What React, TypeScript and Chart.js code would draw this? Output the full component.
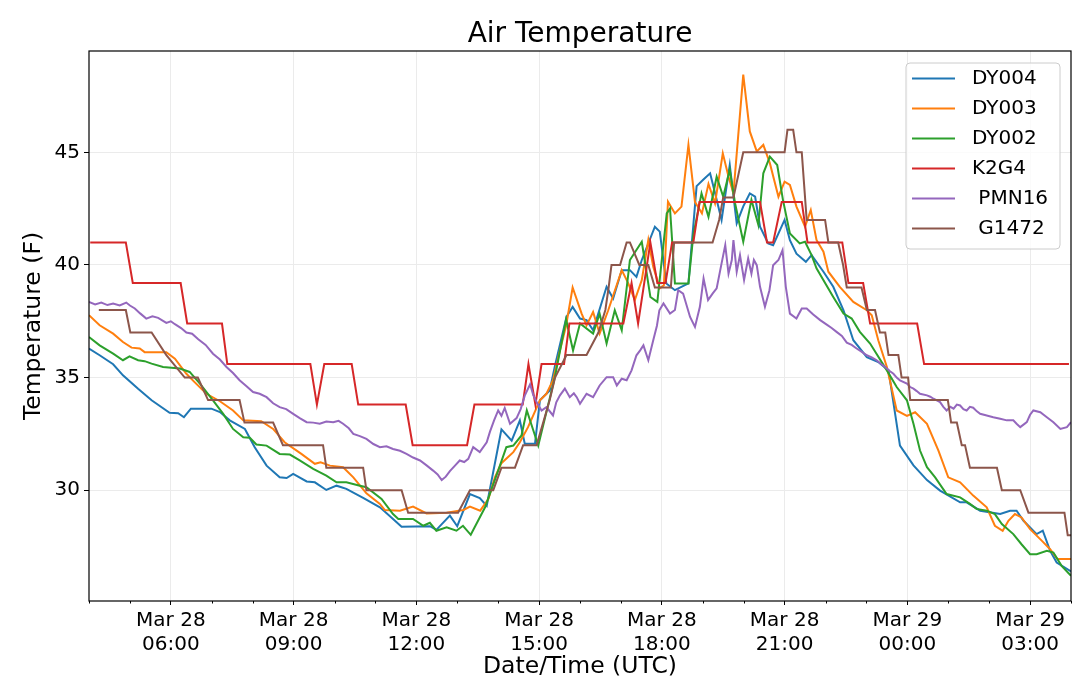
import React, { useEffect, useRef } from 'react';
import { Chart, registerables } from 'chart.js';
Chart.register(...registerables);

// [hours since Mar 28 00:00 UTC, temperature F]
const dy004: [number, number][] = [
  [4.0, 36.29], [4.26, 35.99], [4.59, 35.59], [4.83, 35.1], [5.2, 34.5], [5.53, 33.99], [5.97, 33.44], [6.18, 33.42],
  [6.32, 33.24], [6.49, 33.62], [6.99, 33.62], [7.2, 33.47], [7.44, 33.1], [7.81, 32.72], [8.05, 31.91], [8.34, 31.09],
  [8.66, 30.57], [8.83, 30.54], [8.99, 30.72], [9.32, 30.39], [9.52, 30.35], [9.8, 30.01], [10.05, 30.2], [10.29, 30.06],
  [10.7, 29.66], [11.11, 29.24], [11.39, 28.79], [11.64, 28.38], [12.33, 28.4], [12.49, 28.24], [12.82, 28.87], [13.0, 28.4],
  [13.31, 29.83], [13.55, 29.65], [13.72, 29.31], [14.08, 32.7], [14.33, 32.2], [14.53, 33.1], [14.65, 32.06], [14.9, 32.06],
  [15.02, 33.99], [15.26, 34.43], [15.39, 35.54], [15.67, 37.7], [15.82, 38.14], [16.0, 37.62], [16.16, 37.55], [16.32, 37.1],
  [16.65, 39.03], [16.81, 38.51], [17.02, 39.77], [17.22, 39.77], [17.38, 39.47], [17.51, 40.22], [17.83, 41.7], [17.95, 41.48],
  [18.11, 39.18], [18.32, 38.88], [18.65, 39.18], [18.85, 43.5], [19.01, 43.78], [19.18, 44.07], [19.3, 43.2], [19.46, 42.0],
  [19.66, 44.44], [19.83, 41.85], [19.99, 42.6], [20.15, 43.18], [20.28, 43.03], [20.4, 41.7], [20.6, 40.96], [20.72, 40.88],
  [21.0, 42.0], [21.13, 41.1], [21.29, 40.5], [21.52, 40.14], [21.66, 40.44], [21.95, 39.7], [22.19, 39.03], [22.44, 37.99],
  [22.68, 36.66], [23.01, 35.91], [23.29, 35.69], [23.54, 35.32], [23.82, 31.98], [24.15, 31.1], [24.48, 30.45], [24.8, 29.98],
  [25.29, 29.46], [25.45, 29.46], [25.78, 29.09], [26.27, 28.94], [26.51, 29.09], [26.67, 29.09], [26.84, 28.64], [27.16, 28.05],
  [27.31, 28.2], [27.49, 27.31], [27.65, 26.79], [28.0, 26.39],
];

const dy003: [number, number][] = [
  [4.0, 37.77], [4.26, 37.32], [4.59, 36.95], [4.83, 36.58], [5.04, 36.33], [5.24, 36.29], [5.36, 36.13], [5.89, 36.13],
  [6.1, 35.84], [6.38, 35.17], [6.58, 34.8], [6.87, 34.28], [7.2, 33.95], [7.52, 33.54], [7.77, 33.1], [8.21, 33.06],
  [8.5, 32.72], [8.78, 32.13], [9.19, 31.61], [9.52, 31.17], [9.66, 31.24], [9.89, 31.09], [10.21, 31.02], [10.46, 30.57],
  [10.78, 29.86], [11.11, 29.39], [11.23, 29.12], [11.6, 29.09], [11.92, 29.27], [12.25, 28.97], [12.74, 29.0], [13.15, 29.12],
  [13.31, 29.27], [13.56, 29.09], [13.76, 29.61], [13.92, 30.57], [14.08, 31.2], [14.37, 31.69], [14.53, 32.13], [14.73, 32.8],
  [15.02, 33.99], [15.18, 34.28], [15.34, 34.88], [15.5, 36.13], [15.66, 37.3], [15.82, 39.0], [16.04, 37.84], [16.16, 37.32],
  [16.32, 37.91], [16.48, 36.95], [16.69, 37.99], [17.02, 39.77], [17.18, 39.18], [17.34, 38.44], [17.51, 39.33], [17.67, 41.11],
  [17.79, 39.92], [17.95, 38.96], [18.05, 39.1], [18.15, 42.81], [18.32, 42.29], [18.48, 42.59], [18.65, 45.33], [18.81, 42.8],
  [18.98, 42.29], [19.14, 43.6], [19.3, 42.74], [19.49, 44.96], [19.63, 43.92], [19.75, 43.18], [19.99, 48.45], [20.15, 45.93],
  [20.32, 45.04], [20.48, 45.33], [20.64, 44.52], [20.85, 43.03], [21.0, 43.7], [21.13, 43.55], [21.29, 42.59], [21.5, 41.7],
  [21.64, 42.44], [21.78, 41.11], [21.95, 40.59], [22.07, 39.7], [22.35, 39.03], [22.68, 38.36], [23.01, 37.99], [23.13, 37.77],
  [23.29, 36.66], [23.5, 35.47], [23.74, 33.54], [23.99, 33.3], [24.19, 33.46], [24.48, 32.95], [24.76, 31.76], [25.0, 30.57],
  [25.29, 30.35], [25.61, 29.76], [25.94, 29.24], [26.14, 28.42], [26.33, 28.2], [26.47, 28.64], [26.63, 28.94], [26.79, 28.79],
  [27.0, 28.27], [27.29, 27.75], [27.49, 27.38], [27.67, 26.94], [28.0, 26.94],
];

const dy002: [number, number][] = [
  [4.0, 36.8], [4.26, 36.43], [4.59, 36.06], [4.83, 35.77], [4.99, 35.94], [5.2, 35.77], [5.36, 35.73], [5.53, 35.62],
  [5.81, 35.47], [6.22, 35.4], [6.46, 35.25], [6.71, 34.73], [7.03, 33.99], [7.28, 33.39], [7.52, 32.72], [7.77, 32.35],
  [7.93, 32.33], [8.09, 32.03], [8.34, 31.98], [8.66, 31.61], [8.91, 31.58], [9.15, 31.32], [9.48, 30.95], [9.8, 30.65],
  [10.05, 30.35], [10.29, 30.35], [10.62, 30.2], [10.78, 30.13], [11.15, 29.61], [11.43, 28.94], [11.56, 28.72], [11.92, 28.72],
  [12.17, 28.42], [12.33, 28.55], [12.49, 28.2], [12.74, 28.35], [12.98, 28.2], [13.14, 28.42], [13.33, 28.02], [13.68, 29.24],
  [14.0, 30.87], [14.2, 31.91], [14.37, 31.98], [14.57, 32.43], [14.7, 33.54], [14.86, 32.65], [14.98, 31.98], [15.39, 35.05],
  [15.66, 37.58], [15.83, 36.2], [16.0, 37.4], [16.32, 36.95], [16.48, 37.84], [16.65, 36.51], [16.85, 37.99], [17.02, 37.1],
  [17.22, 40.22], [17.51, 41.03], [17.72, 38.58], [17.89, 38.36], [18.12, 42.29], [18.2, 42.51], [18.32, 39.18], [18.65, 39.18],
  [18.77, 41.33], [18.97, 43.18], [19.14, 42.14], [19.34, 43.92], [19.5, 43.03], [19.66, 44.22], [19.79, 42.74], [19.99, 41.03],
  [20.19, 42.89], [20.36, 41.77], [20.48, 44.07], [20.64, 44.81], [20.82, 44.44], [20.96, 42.89], [21.13, 41.4], [21.37, 40.96],
  [21.5, 41.03], [21.66, 40.44], [21.78, 39.85], [22.19, 38.58], [22.44, 37.84], [22.64, 37.62], [22.84, 37.03], [23.09, 36.51],
  [23.5, 35.32], [23.74, 34.58], [23.99, 33.99], [24.15, 32.95], [24.31, 31.76], [24.48, 31.02], [24.68, 30.57], [24.96, 29.83],
  [25.29, 29.68], [25.53, 29.39], [25.69, 29.17], [25.94, 29.09], [26.14, 28.94], [26.31, 28.5], [26.59, 28.05], [26.79, 27.6],
  [27.0, 27.16], [27.16, 27.16], [27.41, 27.31], [27.57, 27.23], [27.77, 26.64], [28.0, 26.2],
];

const k2g4: [number, number][] = [
  [4.03, 41], [4.9, 41], [5.07, 39.2], [6.24, 39.2], [6.4, 37.4], [7.25, 37.4], [7.38, 35.6], [9.41, 35.6],
  [9.57, 33.8], [9.75, 35.6], [10.42, 35.6], [10.58, 33.8], [11.74, 33.8], [11.91, 32], [13.24, 32], [13.42, 33.8],
  [14.6, 33.8], [14.74, 35.6], [14.91, 33.8], [15.06, 35.6], [15.61, 35.6], [15.74, 37.4], [17.06, 37.4], [17.26, 39.2],
  [17.42, 37.4], [17.72, 41], [17.89, 39.2], [18.09, 39.2], [18.25, 41], [18.77, 41], [18.92, 42.8], [20.4, 42.8],
  [20.57, 41], [20.72, 41], [20.93, 42.8], [21.42, 42.8], [21.56, 41], [22.41, 41], [22.56, 39.2], [22.92, 39.2],
  [23.09, 37.4], [24.24, 37.4], [24.41, 35.6], [27.95, 35.6],
];

const pmn16: [number, number][] = [
  [4.0, 38.36], [4.15, 38.25], [4.3, 38.33], [4.45, 38.22], [4.59, 38.29], [4.75, 38.2], [4.91, 38.33], [5.0, 38.2],
  [5.12, 38.07], [5.25, 37.85], [5.4, 37.62], [5.55, 37.72], [5.69, 37.65], [5.89, 37.43], [6.0, 37.5], [6.1, 37.37],
  [6.25, 37.2], [6.38, 37.0], [6.52, 36.95], [6.67, 36.7], [6.85, 36.45], [7.03, 36.06], [7.2, 35.8], [7.36, 35.47],
  [7.52, 35.2], [7.68, 34.88], [7.85, 34.62], [8.01, 34.36], [8.17, 34.28], [8.34, 34.13], [8.5, 33.86], [8.66, 33.69],
  [8.82, 33.6], [8.99, 33.39], [9.15, 33.2], [9.32, 33.02], [9.48, 33.0], [9.64, 32.95], [9.8, 33.05], [9.97, 33.02],
  [10.1, 33.08], [10.21, 32.95], [10.35, 32.75], [10.46, 32.5], [10.62, 32.4], [10.78, 32.28], [10.95, 32.05], [11.11, 31.91],
  [11.27, 31.95], [11.43, 31.83], [11.6, 31.75], [11.76, 31.61], [11.92, 31.45], [12.09, 31.32], [12.25, 31.1], [12.41, 30.87],
  [12.52, 30.7], [12.62, 30.45], [12.72, 30.6], [12.82, 30.85], [12.95, 31.1], [13.06, 31.32], [13.17, 31.25], [13.27, 31.39],
  [13.39, 31.91], [13.55, 31.69], [13.72, 32.13], [13.8, 32.6], [13.9, 33.1], [14.0, 33.54], [14.08, 33.3], [14.16, 33.65],
  [14.29, 32.95], [14.45, 33.2], [14.55, 33.6], [14.65, 34.2], [14.78, 34.7], [14.86, 34.21], [14.94, 33.91], [15.06, 33.54],
  [15.18, 33.69], [15.34, 33.32], [15.42, 33.9], [15.51, 34.21], [15.63, 34.51], [15.75, 34.13], [15.85, 34.3], [15.92, 34.13],
  [16.0, 33.84], [16.16, 34.28], [16.32, 34.13], [16.48, 34.65], [16.65, 35.02], [16.81, 35.02], [16.9, 34.65], [17.02, 34.95],
  [17.14, 34.88], [17.26, 35.32], [17.38, 35.99], [17.47, 36.21], [17.55, 36.43], [17.67, 35.77], [17.79, 36.66], [17.88, 37.3],
  [17.94, 37.99], [18.04, 38.29], [18.2, 37.84], [18.32, 38.0], [18.4, 38.88], [18.52, 38.73], [18.69, 37.69], [18.81, 37.25],
  [18.93, 38.14], [19.02, 39.4], [19.13, 38.44], [19.24, 38.73], [19.34, 38.96], [19.46, 40.07], [19.55, 40.88], [19.63, 39.62],
  [19.71, 40.22], [19.75, 41.1], [19.83, 39.7], [19.91, 40.44], [20.01, 39.33], [20.11, 40.29], [20.19, 39.62], [20.25, 40.22],
  [20.32, 39.99], [20.4, 39.03], [20.52, 38.14], [20.63, 38.88], [20.72, 39.99], [20.85, 40.22], [20.95, 40.66], [21.03, 39.03],
  [21.13, 37.84], [21.29, 37.62], [21.42, 38.07], [21.54, 38.07], [21.7, 37.8], [21.87, 37.55], [22.03, 37.35], [22.15, 37.2],
  [22.27, 37.03], [22.4, 36.85], [22.52, 36.55], [22.64, 36.45], [22.76, 36.29], [22.88, 36.15], [23.01, 35.99], [23.13, 35.9],
  [23.25, 35.77], [23.36, 35.6], [23.46, 35.47], [23.56, 35.3], [23.66, 35.17], [23.74, 35.0], [23.82, 34.88], [23.99, 34.73],
  [24.07, 34.58], [24.15, 34.51], [24.23, 34.4], [24.31, 34.28], [24.48, 34.21], [24.56, 34.15], [24.64, 34.06], [24.8, 33.91],
  [24.88, 33.7], [24.96, 33.54], [25.05, 33.7], [25.13, 33.62], [25.21, 33.8], [25.29, 33.76], [25.37, 33.6], [25.45, 33.54],
  [25.53, 33.7], [25.61, 33.66], [25.7, 33.5], [25.78, 33.39], [25.94, 33.32], [26.1, 33.24], [26.27, 33.17], [26.43, 33.1],
  [26.59, 33.1], [26.67, 32.95], [26.76, 32.8], [26.92, 33.02], [27.0, 33.35], [27.08, 33.54], [27.25, 33.46], [27.41, 33.24],
  [27.57, 33.02], [27.74, 32.72], [27.9, 32.8], [28.0, 33.02],
];

const g1472: [number, number][] = [
  [4.24, 38], [4.9, 38], [5.01, 37], [5.53, 37], [5.89, 36], [6.34, 35], [6.66, 35], [6.91, 34],
  [7.68, 34], [7.8, 33], [8.5, 33], [8.74, 32], [9.72, 32], [9.8, 31], [10.7, 31], [10.78, 30],
  [11.64, 30], [11.8, 29], [13.02, 29], [13.31, 30], [13.88, 30], [14.08, 31], [14.41, 31], [14.61, 32],
  [14.94, 32], [15.1, 33], [15.26, 34], [15.39, 35], [15.67, 36], [16.16, 36], [16.45, 37], [16.62, 38],
  [16.7, 39], [16.77, 40], [16.98, 40], [17.14, 41], [17.22, 41], [17.45, 40], [17.67, 40], [17.83, 39],
  [18.22, 39], [18.3, 41], [19.24, 41], [19.4, 42], [19.5, 43], [19.75, 43], [19.99, 45], [21.0, 45],
  [21.07, 46], [21.21, 46], [21.29, 45], [21.42, 45], [21.54, 42], [21.99, 42], [22.07, 41], [22.31, 41],
  [22.43, 40], [22.52, 39], [22.88, 39], [23.01, 38], [23.21, 38], [23.33, 37], [23.46, 37], [23.54, 36],
  [23.78, 36], [23.86, 35], [24.02, 35], [24.07, 34], [24.99, 34], [25.07, 33], [25.21, 33], [25.33, 32],
  [25.41, 32], [25.53, 31], [26.19, 31], [26.31, 30], [26.76, 30], [26.96, 29], [27.84, 29], [27.92, 28],
  [28.0, 28],
];

const stationNames = ['DY004', 'DY003', 'DY002', 'K2G4', ' PMN16', ' G1472'];
const stationSeries = [dy004, dy003, dy002, k2g4, pmn16, g1472];
const stationColors = ['#1f77b4', '#ff7f0e', '#2ca02c', '#d62728', '#9467bd', '#8c564b'];

// x axis: hourly minor ticks, labelled every 3 hours
const hourTicks = [4, 5, 6, 7, 8, 9, 10, 11, 12, 13, 14, 15, 16, 17, 18, 19, 20, 21, 22, 23, 24, 25, 26, 27, 28];
const majorHours = [6, 9, 12, 15, 18, 21, 24, 27];
const majorLabels = [
  ['Mar 28', '06:00'], ['Mar 28', '09:00'], ['Mar 28', '12:00'], ['Mar 28', '15:00'],
  ['Mar 28', '18:00'], ['Mar 28', '21:00'], ['Mar 29', '00:00'], ['Mar 29', '03:00'],
];
const tempTicks = [30, 35, 40, 45];
const chartTitle = 'Air Temperature';

const FONT = 'DejaVu Sans';
const GRID = '#ebebeb';

// title centred on the axes, axes box, short minor ticks, legend upper right
const boxLegend = {
  id: 'boxLegend',
  afterDraw(chart: any) {
    const { ctx, chartArea: a } = chart;
    const xs = chart.scales.x;
    ctx.save();
    ctx.fillStyle = '#000';
    ctx.font = `28px "${FONT}"`;
    ctx.textAlign = 'center';
    ctx.textBaseline = 'alphabetic';
    ctx.fillText(chartTitle, (a.left + a.right) / 2, 42);

    ctx.strokeStyle = '#000';
    ctx.lineWidth = 1;
    hourTicks.filter((h) => !majorHours.includes(h)).forEach((h) => {
      const px = Math.round(xs.getPixelForValue(h)) + 0.5;
      ctx.beginPath();
      ctx.moveTo(px, a.bottom);
      ctx.lineTo(px, a.bottom + 2.5);
      ctx.stroke();
    });

    ctx.lineWidth = 1.2;
    ctx.strokeRect(a.left, a.top, a.right - a.left, a.bottom - a.top);

    const sets = chart.data.datasets;
    const w = 154, rowH = 30;
    const h = sets.length * rowH + 6;
    const x0 = a.right - 11 - w, y0 = a.top + 12;
    ctx.beginPath();
    ctx.roundRect(x0, y0, w, h, 4);
    ctx.fillStyle = 'rgba(255,255,255,0.8)';
    ctx.fill();
    ctx.strokeStyle = '#cccccc';
    ctx.lineWidth = 1;
    ctx.stroke();
    ctx.font = `20px "${FONT}"`;
    ctx.textAlign = 'left';
    ctx.textBaseline = 'middle';
    sets.forEach((ds: any, i: number) => {
      const y = y0 + 15.6 + i * rowH;
      ctx.beginPath();
      ctx.moveTo(x0 + 6, y);
      ctx.lineTo(x0 + 49, y);
      ctx.strokeStyle = ds.borderColor;
      ctx.lineWidth = 2;
      ctx.stroke();
      ctx.fillStyle = '#000';
      ctx.fillText(ds.label, x0 + 66, y);
    });
    ctx.restore();
  },
};

const App: React.FC = () => {
  const ref = useRef<HTMLCanvasElement>(null);

  useEffect(() => {
    if (!ref.current) return;
    const chart = new Chart(ref.current, {
      type: 'line',
      data: {
        datasets: stationNames.map((name, i) => ({
          label: name,
          data: stationSeries[i].map(([x, y]) => ({ x, y })),
          borderColor: stationColors[i],
          backgroundColor: stationColors[i],
          borderWidth: 2,
          pointRadius: 0,
          tension: 0,
          order: stationNames.length - i,
        })),
      },
      options: {
        animation: false,
        responsive: false,
        layout: { padding: { left: 0, right: 9, top: 51, bottom: 0 } },
        plugins: {
          legend: { display: false },
          tooltip: { enabled: false },
          title: { display: false },
        },
        scales: {
          x: {
            type: 'linear',
            min: 4,
            max: 28,
            afterBuildTicks: (s: any) => { s.ticks = hourTicks.map((v) => ({ value: v })); },
            afterFit: (s: any) => { s.height = 89; },
            ticks: {
              autoSkip: false,
              maxRotation: 0,
              minRotation: 0,
              padding: 4,
              color: '#000',
              font: { family: FONT, size: 20 },
              callback: (v: any) => {
                const i = majorHours.indexOf(Number(v));
                return i >= 0 ? majorLabels[i] : '';
              },
            },
            grid: {
              color: (c: any) => (majorHours.includes(c.tick?.value) ? GRID : 'rgba(0,0,0,0)'),
              tickColor: (c: any) => (majorHours.includes(c.tick?.value) ? '#000' : 'rgba(0,0,0,0)'),
              tickLength: 4,
            },
            border: { display: false },
            title: {
              display: true,
              text: 'Date/Time (UTC)',
              color: '#000',
              font: { family: FONT, size: 23.5 },
              padding: { top: 4, bottom: 9 },
            },
          },
          y: {
            type: 'linear',
            min: 25.08,
            max: 49.5,
            afterBuildTicks: (s: any) => { s.ticks = tempTicks.map((v) => ({ value: v })); },
            afterFit: (s: any) => { s.width = 89; },
            ticks: {
              padding: 4,
              color: '#000',
              font: { family: FONT, size: 20 },
              callback: (v: any) => String(v),
            },
            grid: { color: GRID, tickColor: '#000', tickLength: 5 },
            border: { display: false },
            title: {
              display: true,
              text: 'Temperature (F)',
              color: '#000',
              font: { family: FONT, size: 23.5 },
              padding: { top: 20, bottom: 0 },
            },
          },
        },
      },
      plugins: [boxLegend],
    });
    return () => {
      chart.destroy();
    };
  }, []);

  return (
    <div style={{ position: 'absolute', left: 0, top: 0, width: 1080, height: 690, background: '#fff' }}>
      <canvas ref={ref} width={1080} height={690}></canvas>
    </div>
  );
};

export default App;
